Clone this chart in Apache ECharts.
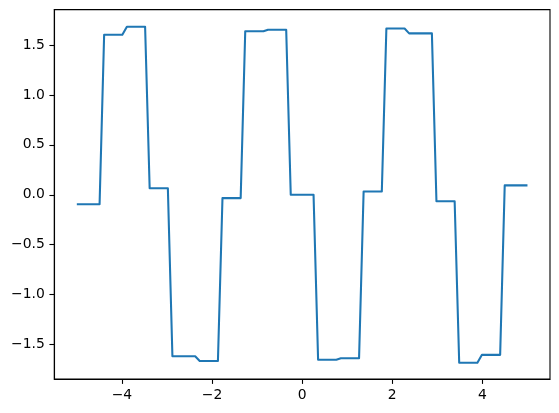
<!DOCTYPE html>
<html>
<head>
<meta charset="utf-8">
<script src="https://cdn.jsdelivr.net/npm/echarts@6/dist/echarts.min.js"></script>
<style>
  html, body { margin: 0; padding: 0; background: #fff; }
  #chart { width: 559px; height: 413px; }
</style>
</head>
<body>
<div id="chart"></div>
<script>
// Corner points of the piecewise-constant curve (start and end of each plateau)
const xs = [
  -5.000, -4.495, -4.394, -3.990, -3.889, -3.485, -3.384, -2.980,
  -2.879, -2.374, -2.273, -1.869, -1.768, -1.364, -1.263, -0.859,
  -0.758, -0.354, -0.253, 0.253, 0.354, 0.758, 0.859, 1.263,
  1.364, 1.768, 1.869, 2.273, 2.374, 2.879, 2.980, 3.384,
  3.485, 3.889, 3.990, 4.394, 4.495, 5.000
];
const ys = [
  -0.094, -0.094, 1.603, 1.603, 1.683, 1.683, 0.065, 0.065,
  -1.617, -1.617, -1.665, -1.665, -0.033, -0.033, 1.638, 1.638,
  1.653, 1.653, 0.000, 0.000, -1.653, -1.653, -1.638, -1.638,
  0.033, 0.033, 1.665, 1.665, 1.617, 1.617, -0.065, -0.065,
  -1.683, -1.683, -1.603, -1.603, 0.094, 0.094
];
const xTicks = [-4, -2, 0, 2, 4];
const yTicks = [-1.5, -1.0, -0.5, 0.0, 0.5, 1.0, 1.5];

const data = xs.map((x, i) => [x, ys[i]]);
const fmtMinus = s => s.replace('-', '\u2212');

const chart = echarts.init(document.getElementById('chart'), null, { renderer: 'canvas' });
chart.setOption({
  animation: false,
  backgroundColor: '#ffffff',
  grid: {
    left: 54.3, right: 9, top: 9.6, bottom: 34,
    show: true, borderColor: '#000', borderWidth: 1.1, backgroundColor: 'transparent'
  },
  xAxis: {
    type: 'value',
    min: -5.5, max: 5.5,
    splitLine: { show: false },
    axisLine: { show: true, onZero: false, lineStyle: { color: '#000', width: 1.1 } },
    axisTick: { show: true, customValues: xTicks, length: 4.9, lineStyle: { color: '#000', width: 1.1 } },
    axisLabel: {
      customValues: xTicks, margin: 9.8, color: '#000',
      fontFamily: 'DejaVu Sans', fontSize: 13.9,
      formatter: v => fmtMinus(String(Math.round(v)))
    }
  },
  yAxis: {
    type: 'value',
    min: -1.845, max: 1.855,
    splitLine: { show: false },
    axisLine: { show: true, onZero: false, lineStyle: { color: '#000', width: 1.1 } },
    axisTick: { show: true, customValues: yTicks, length: 4.9, lineStyle: { color: '#000', width: 1.1 } },
    axisLabel: {
      customValues: yTicks, margin: 9.5, color: '#000',
      fontFamily: 'DejaVu Sans', fontSize: 13.9,
      formatter: v => fmtMinus(v.toFixed(1))
    }
  },
  series: [{
    type: 'line',
    data: data,
    showSymbol: false,
    lineStyle: { color: '#1f77b4', width: 2.08, join: 'round', cap: 'butt' },
    itemStyle: { color: '#1f77b4' }
  }]
});
</script>
</body>
</html>
